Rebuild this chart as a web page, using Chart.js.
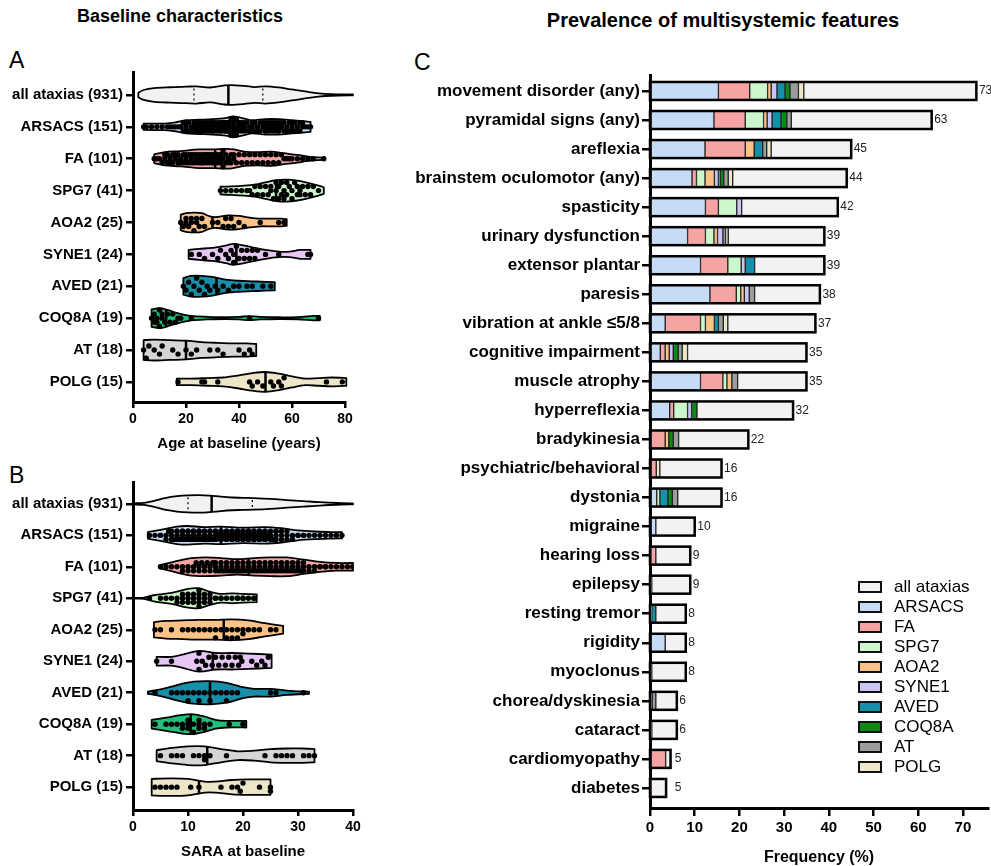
<!DOCTYPE html>
<html>
<head>
<meta charset="utf-8">
<title>Ataxia cohort: baseline characteristics and multisystemic features</title>
<script src="https://cdn.jsdelivr.net/npm/chart.js"></script>
<style>
  body { margin: 0; width: 991px; height: 866px; position: relative; overflow: hidden; background: #fff;
         font-family: "Liberation Sans", Arial, sans-serif; color: #000; }
  canvas { position: absolute; }
  .title { position: absolute; font-weight: bold; white-space: nowrap; transform: translateX(-50%); }
  .letter { position: absolute; font-size: 23px; }
  #legend { position: absolute; left: 858px; top: 577px; }
  .item { height: 20px; display: flex; align-items: center; font-size: 17px; }
  .box { width: 20px; height: 8px; border: 2.5px solid #111; margin-right: 12px; }
</style>
</head>
<body>
  <div class="title" style="left:180px; top:6px; font-size:18px;">Baseline characteristics</div>
  <div class="title" style="left:723px; top:9px; font-size:20px;">Prevalence of multisystemic features</div>
  <div class="letter" style="left:9px; top:47px;">A</div>
  <div class="letter" style="left:9px; top:462px;">B</div>
  <div class="letter" style="left:414px; top:49px;">C</div>

  <canvas id="ageChart" width="365" height="397" style="left:0; top:60px;"></canvas>
  <canvas id="saraChart" width="365" height="395" style="left:0; top:470px;"></canvas>
  <canvas id="freqChart" width="591" height="821" style="left:400px; top:45px;"></canvas>
  <div id="legend"></div>

<script>
// ------------------- DATA --------------------
const groupNames = ['all ataxias', 'ARSACS', 'FA', 'SPG7', 'AOA2', 'SYNE1', 'AVED', 'COQ8A', 'AT', 'POLG'];
const groupCounts = [931, 151, 101, 41, 25, 24, 21, 19, 18, 15];
const ageTicks = [0, 20, 40, 60, 80];
const saraTicks = [0, 10, 20, 30, 40];
const freqTicks = [0, 10, 20, 30, 40, 50, 60, 70];

// age at baseline, individual patients
const ageARSACS = [4,5,7,9,11,13,14,15,16,17, 18,18,19,19,20,20,21,21,22,22, 23,23,23,24,24,24,25,25,25,26,
  26,26,27,27,27,28,28,28,29,29, 29,30,30,30,30,31,31,31,32,32, 32,33,33,33,33,34,34,34,35,35,
  35,35,36,36,36,36,37,37,37,37, 38,38,38,38,39,39,39,39,40,40, 40,41,41,41,42,42,42,43,43,44,
  44,45,45,46,46,47,47,48,48,49, 49,50,50,50,51,51,51,52,52,52, 53,53,53,54,54,54,55,55,55,56,
  56,57,57,58,58,59,59,60,60,61, 61,62,62,63,63,64,64,65,66,67, 20,25,30,35,40,45,50,55,60,34,36];
const ageFA = [8,9,10,11,12,12,13,13,14,14, 15,15,16,16,17,17,18,18,19,19, 20,20,21,21,22,22,23,23,24,24,
  25,25,25,26,26,26,27,27,27,28, 28,28,29,29,29,30,30,30,31,31, 31,32,32,33,33,34,34,35,35,36,
  36,37,37,38,38,39,40,41,42,43, 44,45,46,47,48,49,50,51,52,53, 54,55,56,57,58,59,60,62,64,66,
  68,72,24,26,28,30,32,34,22,20,33];
const ageSPG7 = [33,35,37,39,41,43,45,46,47,48,49,50,51,52,52,53,54,54,55,55,56,56,57,57,58,58,59,60,60,61,
  62,62,63,63,64,65,66,67,68,70,44];
const ageAOA2 = [18,19,20,20,21,22,22,23,24,24,25,26,27,30,32,34,35,36,37,38,40,42,48,55,57];
const ageSYNE1 = [22,25,27,30,32,33,35,36,37,38,38,39,40,41,42,43,44,45,46,47,50,55,66,67];
const ageAVED = [19,20,21,22,23,24,25,26,27,28,29,31,32,34,36,38,40,43,45,49,52];
const ageCOQ8A = [7,8,8,9,9,10,10,11,11,12,13,14,15,16,17,18,22,44,70];
const ageAT = [4,5,6,8,10,11,15,17,20,22,24,29,32,34,40,42,44,45];
const agePOLG = [17,26,27,32,44,45,47,49,52,53,55,56,57,73,79];

// SARA at baseline, individual patients
const saraARSACS = [3,4,5,5,6,6,7,7,7,8, 8,8,8,9,9,9,9,9,10,10, 10,10,10,11,11,11,11,11,12,12,
  12,12,12,13,13,13,13,13,14,14, 14,14,15,15,15,15,16,16,16,16, 17,17,17,17,18,18,18,18,19,19,
  19,19,20,20,20,20,21,21,21,21, 22,22,22,22,23,23,23,23,24,24, 24,24,25,25,25,26,26,26,27,27,
  27,28,28,28,29,29,30,30,31,31, 32,33,34,35,36,37,38,9.5,10.5,11.5, 12.5,13.5,14.5,15.5,16.5,17.5,18.5,19.5,20.5,21.5,
  22.5,23.5,24.5,25.5,8.5,7.5,6.5,12,14,16, 18,20,22,24,26,11,13,15,17,19, 21,23,10,12,14,16,18,20,22,24, 9];
const saraFA = [5,6,7,8,9,9,10,10,11,11, 12,12,13,13,14,14,15,15,15,16, 16,16,17,17,17,18,18,18,19,19,
  19,20,20,20,21,21,21,22,22,22, 23,23,23,24,24,24,25,25,25,26, 26,26,27,27,27,28,28,28,29,29,
  29,30,30,30,31,31,31,32,32,33, 33,34,34,35,35,36,37,38,39,40, 12.5,13.5,14.5,16.5,18.5,20.5,22.5,24.5,25.5,26.5,
  27.5,28.5,29.5,30.5,23.5,21.5,19.5,17.5,15.5,11.5, 40];
const saraSPG7 = [3,5,6,7,8,8,9,9,10,10,10,11,11,11,11,12,12,12,12,12,13,13,13,13,14,14,14,15,15,16,
  16,17,18,19,19,20,20,21,22,22,9];
const saraAOA2 = [4,5,7,9,10,11,12,13,14,15,15,16,17,17,18,18,19,19,20,20,21,22,23,25,26];
const saraSYNE1 = [4.3,7,11.6,12,12,12.6,13.2,13.8,14.4,15,15.6,16.2,16.8,17.4,18,18.6,19.2,19.5,19.8,21.6,22.5,23.4,24,24.6];
const saraAVED = [4,7,8,9,10,10,11,12,12,13,14,14,15,16,17,17,18,19,25,26,31];
const saraCOQ8A = [4,6,7,8,9,9,10,10,10,11,11,12,12,12,13,13,14,17.5,20];
const saraAT = [5,7,8,9,11,12,13,13,14,17,24,26,27,28,29,31,32,33];
const saraPOLG = [4,5,6,7,8,10.5,12,16,18,19,19.5,20,23,25,25];

// violin outlines: [value, relative density]
const ageShapes = [
  [[2,0.2],[4,0.45],[8,0.62],[14,0.7],[20,0.75],[24,0.78],[29,0.68],[34,0.85],[37,0.9],[42,0.82],[46,0.72],[50,0.78],[55,0.68],[60,0.5],[65,0.32],[70,0.15],[75,0.07],[83,0.04]],
  [[4,0.28],[8,0.3],[12,0.3],[16,0.4],[20,0.6],[25,0.65],[30,0.7],[35,0.8],[38,0.95],[42,0.75],[45,0.6],[50,0.7],[55,0.7],[60,0.6],[65,0.5],[67,0.45]],
  [[8,0.4],[12,0.6],[18,0.7],[25,0.85],[30,0.85],[35,0.9],[38,0.85],[42,0.65],[47,0.6],[52,0.65],[57,0.5],[62,0.35],[66,0.2],[70,0.12],[72,0.1]],
  [[33,0.35],[37,0.38],[42,0.45],[46,0.55],[50,0.75],[54,0.95],[58,1.0],[62,0.9],[66,0.7],[70,0.45],[72,0.3]],
  [[18,0.7],[20,0.85],[23,0.9],[26,0.85],[29,0.55],[32,0.5],[36,0.65],[40,0.6],[44,0.45],[48,0.35],[52,0.35],[56,0.35],[58,0.3]],
  [[21,0.4],[25,0.5],[30,0.6],[35,0.8],[38,0.95],[42,0.8],[46,0.6],[50,0.4],[55,0.25],[59,0.25],[63,0.4],[67,0.4]],
  [[19,0.75],[22,0.95],[26,0.95],[30,0.85],[35,0.6],[40,0.5],[45,0.45],[50,0.4],[53.5,0.38]],
  [[7,0.8],[10,0.9],[13,0.75],[17,0.45],[22,0.2],[28,0.12],[35,0.08],[40,0.12],[44,0.18],[48,0.12],[55,0.08],[62,0.1],[68,0.2],[70.5,0.2]],
  [[4,0.9],[8,0.95],[14,0.9],[20,0.85],[26,0.72],[32,0.65],[38,0.6],[43,0.6],[46.5,0.55]],
  [[16.5,0.3],[22,0.3],[28,0.35],[34,0.4],[40,0.6],[45,0.8],[50,0.9],[55,0.75],[60,0.5],[65,0.3],[70,0.35],[75,0.4],[80.5,0.35]]
];
const saraShapes = [
  [[0.3,0.05],[2,0.1],[4,0.3],[6,0.55],[8,0.7],[10,0.78],[12,0.8],[14,0.75],[16,0.65],[18,0.58],[20,0.55],[22,0.52],[25,0.45],[28,0.35],[31,0.25],[34,0.15],[37,0.08],[40,0.04]],
  [[2.7,0.3],[5,0.5],[8,0.8],[10,0.85],[13,0.75],[16,0.8],[20,0.7],[24,0.75],[27,0.65],[30,0.45],[33,0.35],[36,0.3],[38,0.28]],
  [[4.9,0.15],[7,0.4],[10,0.75],[13,0.85],[16,0.8],[19,0.7],[22,0.8],[25,0.85],[28,0.85],[31,0.65],[34,0.45],[37,0.35],[40,0.35]],
  [[0,0.04],[2,0.05],[4,0.3],[7,0.5],[10,0.85],[12,0.9],[14,0.6],[16,0.4],[18,0.45],[20,0.4],[22.5,0.35]],
  [[3.8,0.7],[6,0.8],[9,0.85],[12,0.9],[15,0.9],[18,0.95],[21,0.85],[24,0.6],[27.3,0.35]],
  [[4.3,0.4],[7,0.4],[9,0.6],[12,0.95],[15,0.75],[18,0.75],[21,0.7],[25.2,0.6]],
  [[2.7,0.1],[5,0.3],[8,0.7],[11,1.0],[14,1.05],[17,0.9],[20,0.5],[22,0.35],[25,0.35],[28,0.2],[32,0.1]],
  [[3.4,0.4],[6,0.6],[9,0.85],[11,0.9],[13,0.7],[15,0.4],[17,0.3],[20.6,0.3]],
  [[4.3,0.5],[7,0.7],[10,0.85],[13,0.85],[16,0.6],[19,0.4],[22,0.45],[25,0.6],[28,0.65],[31,0.65],[33,0.6]],
  [[3.4,0.75],[7,0.8],[10,0.75],[13,0.5],[15,0.5],[18,0.65],[21,0.7],[25,0.7]]
];
const ageMedians = [36, 37.7, 31, 54, 30, 39, 31.5, 12.5, 20, 50];
const saraMedians = [14.3, 16, 21, 12, 16.5, 14.5, 14, 10.5, 13.5, 12];
const ageQuartilesAll = [23, 49];
const saraQuartilesAll = [10, 21.7];

// panel C: % of patients with each feature
const featureNames = ['movement disorder (any)', 'pyramidal signs (any)', 'areflexia', 'brainstem oculomotor (any)',
  'spasticity', 'urinary dysfunction', 'extensor plantar', 'paresis', 'vibration at ankle \u22645/8',
  'cognitive impairment', 'muscle atrophy', 'hyperreflexia', 'bradykinesia', 'psychiatric/behavioral',
  'dystonia', 'migraine', 'hearing loss', 'epilepsy', 'resting tremor', 'rigidity', 'myoclonus',
  'chorea/dyskinesia', 'cataract', 'cardiomyopathy', 'diabetes'];
const freqAll = [73, 63, 45, 44, 42, 39, 39, 38, 37, 35, 35, 32, 22, 16, 16, 10, 9, 9, 8, 8, 8, 6, 6, 4.6, 3.6];
const freqAllLabels = [73, 63, 45, 44, 42, 39, 39, 38, 37, 35, 35, 32, 22, 16, 16, 10, 9, 9, 8, 8, 8, 6, 6, 5, 5];
const freqARSACS = [15.3,14.3,12.3,9.4,12.4,8.4,11.3,13.4,3.4,2.3,11.3,4.4,0,0,1.5,1.3,0.3,0,0,3.4,0,0,0,0,0];
const freqFA     = [7.0,7.0,9.0,1.0,2.9,4.0,6.1,5.9,7.9,1.1,5.0,0.9,3.4,1.4,0,0,1.0,0,0,0,0,0,0,3.5,0.3];
const freqSPG7   = [4.0,4.1,0,1.9,4.1,1.9,3.0,1.0,1.1,0,0.9,3.1,0,0,0.7,0,0,0,0.4,0,0,0,0,0,0];
const freqAOA2   = [0.8,0.8,2.0,2.1,0,0.8,0,0.8,2.0,0.9,1.1,0,0.8,0,0,0,0,0,0,0,0,0,0,0,0];
const freqSYNE1  = [1.3,1.1,0,0.9,1.1,1.2,0.9,1.1,0,0.9,0,0.9,0,0,0,0,0,0,0,0,0,0.5,0,0,0];
const freqAVED   = [1.8,2.0,1.9,0.4,0,0,2.1,0,0.9,0,0,0,0,0,1.8,0,0,0,0.9,0,0,0,0,0,0];
const freqCOQ8A  = [1.1,1.3,0,0.8,0,0,0,0,0,1.1,0,1.2,1.0,0,1.0,0,0,0,0,0,0,0,0,0,0];
const freqAT     = [1.9,1.0,0.9,1.0,0,0.6,0,1.2,1.1,0.9,1.3,0,1.2,0,1.2,0,0,0.4,0,0,0.4,0.8,0.4,0,0];
const freqPOLG   = [1.2,0,1.0,1.0,0,0.6,0,0,1.0,1.2,0,0,0,0.8,0,0,0,0,0,0,0,0,0,0,0];

// ------------------- STYLE --------------------
const FONT = '"Liberation Sans", Arial, sans-serif';
const violinColors = ['#f2f2f2', '#c6dbf5', '#f6a3a3', '#ccf7cc', '#fcc389', '#e6c6f2', '#1590a8', '#21c07a', '#d6d6d6', '#eee6c8'];
const barColors    = ['#f2f2f2', '#c6dbf5', '#f6a3a3', '#ccf7cc', '#fcc389', '#c9c5f5', '#1590a8', '#0b8a17', '#9c9c9c', '#eee6c8'];
const VIOLIN_PX = 22;   // full height of a violin at density 1
const DOT_R = 2.7;
const BAR_PX = 18;

Chart.defaults.font.family = FONT;
Chart.defaults.color = '#000';

// ------------------- VIOLINS --------------------
function halfAt(shape, v) {
  if (v <= shape[0][0]) return shape[0][1] * VIOLIN_PX / 2;
  for (let i = 1; i < shape.length; i++) {
    if (v <= shape[i][0]) {
      const [a, wa] = shape[i - 1], [b, wb] = shape[i];
      return (wa + (wb - wa) * (v - a) / (b - a)) * VIOLIN_PX / 2;
    }
  }
  return shape[shape.length - 1][1] * VIOLIN_PX / 2;
}

function smoothThrough(ctx, pts) {
  for (let i = 0; i < pts.length - 1; i++) {
    const p0 = pts[i - 1] || pts[i], p1 = pts[i], p2 = pts[i + 1], p3 = pts[i + 2] || p2;
    ctx.bezierCurveTo(p1[0] + (p2[0] - p0[0]) / 6, p1[1] + (p2[1] - p0[1]) / 6,
                      p2[0] - (p3[0] - p1[0]) / 6, p2[1] - (p3[1] - p1[1]) / 6, p2[0], p2[1]);
  }
}

const violinPlugin = {
  id: 'violins',
  beforeDatasetsDraw(chart, args, opts) {
    const { ctx } = chart;
    const xs = chart.scales.x, ys = chart.scales.y;
    ctx.save();
    opts.shapes.forEach((shape, i) => {
      const cy = ys.getPixelForValue(i);
      const top = shape.map(([v, w]) => [xs.getPixelForValue(v), cy - w * VIOLIN_PX / 2]);
      const bottom = shape.map(([v, w]) => [xs.getPixelForValue(v), cy + w * VIOLIN_PX / 2]).reverse();
      ctx.beginPath();
      ctx.moveTo(top[0][0], top[0][1]);
      smoothThrough(ctx, top);
      ctx.lineTo(bottom[0][0], bottom[0][1]);
      smoothThrough(ctx, bottom);
      ctx.closePath();
      ctx.fillStyle = violinColors[i];
      ctx.fill();
      ctx.lineWidth = 1.8;
      ctx.strokeStyle = '#000';
      ctx.lineJoin = 'round';
      ctx.stroke();

      // median
      const m = opts.medians[i], mx = xs.getPixelForValue(m), mh = halfAt(shape, m);
      ctx.lineWidth = 2.5;
      ctx.beginPath();
      ctx.moveTo(mx, cy - mh);
      ctx.lineTo(mx, cy + mh);
      ctx.stroke();
    });
    // quartiles of the whole cohort
    const cy0 = ys.getPixelForValue(0);
    ctx.lineWidth = 1.2;
    ctx.setLineDash([2, 3]);
    opts.quartiles.forEach(q => {
      const qx = xs.getPixelForValue(q), qh = halfAt(opts.shapes[0], q) - 2;
      ctx.beginPath();
      ctx.moveTo(qx, cy0 - qh);
      ctx.lineTo(qx, cy0 + qh);
      ctx.stroke();
    });
    ctx.restore();
  }
};

// beeswarm offsets inside each violin, computed from the scales
function placeDots(chart, pointsByRow, shapes) {
  const xs = chart.scales.x, ys = chart.scales.y;
  const pxPerRow = Math.abs(ys.getPixelForValue(1) - ys.getPixelForValue(0));
  const data = [];
  pointsByRow.forEach((vals, row) => {
    if (!vals) return;
    const placed = [];
    [...vals].sort((a, b) => a - b).forEach(v => {
      const px = xs.getPixelForValue(v);
      const lim = Math.max(0, halfAt(shapes[row], v) - DOT_R * 0.6);
      let best = 0, bestScore = Infinity;
      for (let k = 0; k < 14 && bestScore > 0; k++) {
        for (const s of (k ? [1, -1] : [1])) {
          const dy = s * k * DOT_R * 1.5;
          if (Math.abs(dy) > lim) continue;
          let score = 0;
          for (const q of placed) {
            const d = Math.hypot(q.x - px, q.y - dy);
            if (d < DOT_R * 2) score += DOT_R * 2 - d;
          }
          if (score < bestScore) { bestScore = score; best = dy; }
          if (score === 0) break;
        }
      }
      placed.push({ x: px, y: best });
      data.push({ x: v, y: row + best / pxPerRow });
    });
  });
  chart.data.datasets[0].data = data;
  chart.update('none');
}

function violinChart(id, o) {
  const chart = new Chart(document.getElementById(id), {
    type: 'scatter',
    data: { datasets: [{ data: [], pointRadius: DOT_R, pointHoverRadius: DOT_R, backgroundColor: '#000', borderWidth: 0 }] },
    options: {
      responsive: false, animation: false, devicePixelRatio: 1,
      layout: { padding: { left: 0, right: o.padRight, top: o.padTop, bottom: 0 } },
      plugins: { legend: { display: false }, tooltip: { enabled: false },
                 violins: { shapes: o.shapes, medians: o.medians, quartiles: o.quartiles } },
      scales: {
        x: {
          type: 'linear', min: 0, max: o.max,
          afterBuildTicks: s => { s.ticks = o.ticks.map(v => ({ value: v })); },
          afterFit: s => { s.height = o.xHeight; },
          ticks: { color: '#000', font: { size: 14, weight: 'bold' }, padding: 3, maxRotation: 0 },
          grid: { drawOnChartArea: false, color: '#000', lineWidth: 2.5, tickLength: 6 },
          border: { color: '#000', width: 3 },
          title: { display: true, text: o.title, color: '#000', font: { size: 15, weight: 'bold' }, padding: { top: 0, bottom: 4 } }
        },
        y: {
          type: 'linear', reverse: true, min: o.yMin, max: o.yMax,
          afterBuildTicks: s => { s.ticks = groupNames.map((_, i) => ({ value: i })); },
          afterFit: s => { s.width = 133; },
          ticks: { callback: (v, i) => `${groupNames[i]} (${groupCounts[i]})`, color: '#000',
                   font: { size: 15, weight: 'bold' }, padding: 3, autoSkip: false },
          grid: { drawOnChartArea: false, color: '#000', lineWidth: 2.5, tickLength: 7 },
          border: { color: '#000', width: 3 }
        }
      }
    },
    plugins: [violinPlugin]
  });
  placeDots(chart, o.points, o.shapes);
  return chart;
}

violinChart('ageChart', {
  max: 80, ticks: ageTicks, title: 'Age at baseline (years)', padRight: 20, padTop: 12, xHeight: 55,
  yMin: -0.72, yMax: 9.63, shapes: ageShapes, medians: ageMedians, quartiles: ageQuartilesAll,
  points: [null, ageARSACS, ageFA, ageSPG7, ageAOA2, ageSYNE1, ageAVED, ageCOQ8A, ageAT, agePOLG]
});

violinChart('saraChart', {
  max: 40, ticks: saraTicks, title: 'SARA at baseline', padRight: 12, padTop: 10, xHeight: 55,
  yMin: -0.695, yMax: 9.726, shapes: saraShapes, medians: saraMedians, quartiles: saraQuartilesAll,
  points: [null, saraARSACS, saraFA, saraSPG7, saraAOA2, saraSYNE1, saraAVED, saraCOQ8A, saraAT, saraPOLG]
});

// ------------------- STACKED BARS --------------------
const freqGroups = [freqARSACS, freqFA, freqSPG7, freqAOA2, freqSYNE1, freqAVED, freqCOQ8A, freqAT, freqPOLG];
const freqRest = freqAll.map((t, i) => t - freqGroups.reduce((s, g) => s + g[i], 0));

const toPoints = arr => arr.map((v, i) => (v > 0 ? { x: v, y: i } : { x: null, y: i }));
const barDatasets = freqGroups.map((g, k) => ({
  label: groupNames[k + 1], data: toPoints(g), backgroundColor: barColors[k + 1]
}));
barDatasets.push({ label: 'all ataxias', data: toPoints(freqRest), backgroundColor: barColors[0] });
barDatasets.forEach(d => Object.assign(d, { borderColor: '#222', borderWidth: 1, borderSkipped: false, barThickness: BAR_PX }));

const barOutline = {
  id: 'barOutline',
  afterDatasetsDraw(chart) {
    const { ctx } = chart;
    const xs = chart.scales.x, ys = chart.scales.y;
    ctx.save();
    ctx.strokeStyle = '#000';
    ctx.lineWidth = 2.5;
    freqAll.forEach((t, i) => {
      const x0 = xs.getPixelForValue(0), x1 = xs.getPixelForValue(t), cy = ys.getPixelForValue(i);
      ctx.strokeRect(x0, cy - BAR_PX / 2, x1 - x0, BAR_PX);
    });
    ctx.fillStyle = '#222';
    ctx.font = '12px ' + FONT;
    ctx.textBaseline = 'middle';
    freqAllLabels.forEach((lab, i) => {
      ctx.fillText(String(lab), xs.getPixelForValue(lab) + 2.5, ys.getPixelForValue(i));
    });
    ctx.restore();
  }
};

new Chart(document.getElementById('freqChart'), {
  type: 'bar',
  data: { datasets: barDatasets },
  options: {
    indexAxis: 'y',
    responsive: false, animation: false, devicePixelRatio: 1,
    layout: { padding: { left: 0, right: 3, top: 30, bottom: 0 } },
    plugins: { legend: { display: false }, tooltip: { enabled: false } },
    scales: {
      x: {
        type: 'linear', min: 0, max: 75.6, stacked: true,
        afterBuildTicks: s => { s.ticks = freqTicks.map(v => ({ value: v })); },
        afterFit: s => { s.height = 58; },
        ticks: { color: '#000', font: { size: 15, weight: 'bold' }, padding: 3, maxRotation: 0 },
        grid: { drawOnChartArea: false, color: '#000', lineWidth: 2.5, tickLength: 8 },
        border: { color: '#000', width: 3 },
        title: { display: true, text: 'Frequency (%)', color: '#000', font: { size: 16, weight: 'bold', lineHeight: 1 }, padding: { top: 0, bottom: 0 } }
      },
      y: {
        type: 'linear', reverse: true, min: -0.55, max: 24.69, stacked: true, offset: false,
        afterBuildTicks: s => { s.ticks = featureNames.map((_, i) => ({ value: i })); },
        afterFit: s => { s.width = 250; },
        ticks: { callback: (v, i) => featureNames[i], color: '#000', font: { size: 17, weight: 'bold' }, padding: 2, autoSkip: false },
        grid: { drawOnChartArea: false, offset: false, color: '#000', lineWidth: 2.5, tickLength: 8 },
        border: { color: '#000', width: 3 }
      }
    }
  },
  plugins: [barOutline]
});

// ------------------- LEGEND --------------------
const legend = document.getElementById('legend');
groupNames.forEach((name, k) => {
  const item = document.createElement('div');
  item.className = 'item';
  item.innerHTML = `<span class="box" style="background:${barColors[k]}"></span><span>${name}</span>`;
  legend.appendChild(item);
});
</script>
</body>
</html>
